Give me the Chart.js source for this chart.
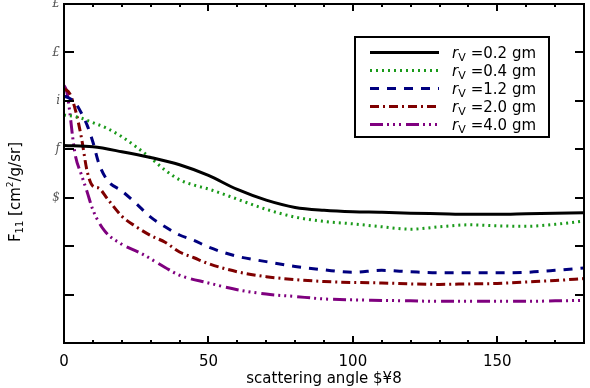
<!DOCTYPE html>
<html>
<head>
<meta charset="utf-8">
<script src="https://cdn.jsdelivr.net/npm/chart.js@4/dist/chart.umd.min.js"></script>
<style>
html,body{margin:0;padding:0;background:#fff;}
#wrap{width:590px;height:388px;}
</style>
</head>
<body>
<div id="wrap"><canvas id="c" width="590" height="388"></canvas></div>
<script>
// ---- data (y values are log10 decades on the plot's decade axis) ----
const seriesSizes = ["0.2", "0.4", "1.2", "2.0", "4.0"];
const yTickLabels = ["", "", "", "$", "f", "i", "£", "£"]; // for decades 0..7
const xTitle = "scattering angle $¥8";

const angles02 = [0,10,20,30,40,50,60,70,80,90,100,110,120,130,140,150,160,170,180];
const values02 = [4.08,4.05,3.95,3.83,3.68,3.46,3.17,2.95,2.80,2.74,2.71,2.70,2.68,2.67,2.66,2.66,2.67,2.68,2.69];

const angles04 = [0,5,10,15,20,25,30,35,40,45,50,60,70,80,90,100,110,120,130,140,150,160,170,180];
const values04 = [4.71,4.66,4.55,4.43,4.26,4.05,3.82,3.57,3.37,3.26,3.18,2.97,2.76,2.60,2.51,2.46,2.40,2.35,2.40,2.44,2.42,2.41,2.45,2.52];

const angles12 = [0,2,4,6,8,10,12,15,20,25,30,35,40,45,50,60,70,80,90,100,110,120,130,140,150,160,170,180];
const values12 = [5.10,5.05,4.95,4.75,4.50,4.15,3.72,3.36,3.14,2.88,2.60,2.40,2.23,2.12,1.98,1.79,1.68,1.58,1.51,1.46,1.50,1.47,1.45,1.45,1.45,1.46,1.50,1.55];

const angles20 = [0,2,4,6,8,10,12,15,20,25,30,35,40,45,50,60,70,80,90,100,110,120,130,140,150,160,170,180];
const values20 = [5.25,5.15,4.80,4.25,3.55,3.24,3.20,2.98,2.62,2.40,2.22,2.08,1.88,1.76,1.64,1.47,1.37,1.31,1.27,1.25,1.24,1.22,1.21,1.22,1.23,1.26,1.29,1.33];

const angles40 = [0,1,2,3,4,6,8,10,14,20,27,35,40,50,60,70,80,90,100,110,120,130,140,150,160,170,180];
const values40 = [5.32,5.18,4.77,4.25,3.85,3.48,3.12,2.75,2.32,2.04,1.84,1.56,1.40,1.24,1.10,1.01,0.96,0.91,0.89,0.88,0.87,0.86,0.86,0.86,0.86,0.87,0.88];

const seriesAngles = [angles02, angles04, angles12, angles20, angles40];
const seriesValues = [values02, values04, values12, values20, values40];

// ---- styles ----
const colors = ["#000000", "#1a9a1a", "#00007f", "#7f0000", "#7f007f"];
const dashes = [[], [2,4], [9,8], [9,4,2,4], [13,4,2,4,2,4,2,5]];

const datasets = seriesSizes.map((s, i) => ({
  label: s,
  data: seriesAngles[i].map((a, j) => ({x: a, y: seriesValues[i][j]})),
  borderColor: colors[i],
  backgroundColor: colors[i],
  borderWidth: 3,
  borderDash: dashes[i],
  pointRadius: 0,
  cubicInterpolationMode: 'monotone',
  fill: false
}));

const framePlugin = {
  id: 'frame',
  afterDraw(chart) {
    const ctx = chart.ctx;
    const a = chart.chartArea;
    const xs = chart.scales.x, ys = chart.scales.y;
    ctx.save();
    // ticks
    ctx.strokeStyle = '#000';
    ctx.lineWidth = 2;
    ctx.setLineDash([]);
    for (let v = 10; v < 180; v += 10) {
      const px = Math.round(xs.getPixelForValue(v));
      const len = (v % 50 === 0) ? 7 : 3;
      ctx.beginPath();
      ctx.moveTo(px, a.bottom); ctx.lineTo(px, a.bottom - len);
      ctx.moveTo(px, a.top); ctx.lineTo(px, a.top + len);
      ctx.stroke();
    }
    for (let d = 1; d < 7; d++) {
      const py = Math.round(ys.getPixelForValue(d));
      ctx.beginPath();
      ctx.moveTo(a.left, py); ctx.lineTo(a.left + 10, py);
      ctx.moveTo(a.right, py); ctx.lineTo(a.right - 9, py);
      ctx.stroke();
    }
    // frame
    ctx.strokeRect(a.left, a.top, a.right - a.left, a.bottom - a.top);

    // y title
    ctx.fillStyle = '#000';
    ctx.translate(16, 192);
    ctx.rotate(-Math.PI / 2);
    ctx.textBaseline = 'middle';
    const mainF = '15px "DejaVu Sans"', subF = '10px "DejaVu Sans"', supF = '9px "DejaVu Sans"';
    const parts = [["F", mainF, 0], ["11", subF, 4], [" [cm", mainF, 0], ["2", supF, -5], ["/g/sr]", mainF, 0]];
    let w = 0;
    parts.forEach(p => { ctx.font = p[1]; w += ctx.measureText(p[0]).width; });
    let x = -w / 2;
    ctx.textAlign = 'left';
    parts.forEach(p => { ctx.font = p[1]; ctx.fillText(p[0], x, p[2]); x += ctx.measureText(p[0]).width; });
    ctx.restore();

    // x title
    ctx.save();
    ctx.fillStyle = '#000';
    ctx.font = '15px "DejaVu Sans"';
    ctx.textAlign = 'center';
    ctx.textBaseline = 'middle';
    ctx.fillText(xTitle, (a.left + a.right) / 2, 379);
    ctx.restore();

    // legend
    ctx.save();
    const bx = 355, by = 37, bw = 194, bh = 100;
    ctx.fillStyle = '#fff';
    ctx.fillRect(bx, by, bw, bh);
    ctx.strokeStyle = '#000';
    ctx.lineWidth = 2;
    ctx.strokeRect(bx, by, bw, bh);
    chart.data.datasets.forEach((ds, i) => {
      const yy = 52.5 + i * 18;
      ctx.strokeStyle = ds.borderColor;
      ctx.lineWidth = 3;
      ctx.setLineDash(ds.borderDash);
      ctx.beginPath();
      ctx.moveTo(370, yy); ctx.lineTo(439, yy);
      ctx.stroke();
      ctx.setLineDash([]);
      ctx.fillStyle = '#000';
      ctx.textBaseline = 'alphabetic';
      ctx.textAlign = 'left';
      let tx = 452;
      const base = yy + 5;
      ctx.font = 'italic 15px "DejaVu Sans"';
      ctx.fillText('r', tx, base); tx += ctx.measureText('r').width;
      ctx.font = '11px "DejaVu Sans"';
      ctx.fillText('V', tx, base + 3); tx += ctx.measureText('V').width + 5;
      ctx.font = '15px "DejaVu Sans"';
      ctx.fillText('=' + ds.label + ' gm', tx, base);
    });
    ctx.restore();
  }
};

new Chart(document.getElementById('c'), {
  type: 'line',
  data: { datasets },
  options: {
    responsive: false,
    animation: false,
    devicePixelRatio: 1,
    layout: { padding: { left: 0, right: 6, top: 4, bottom: 0 } },
    plugins: { legend: { display: false }, tooltip: { enabled: false } },
    scales: {
      x: {
        type: 'linear', min: 0, max: 180,
        grid: { display: false, drawTicks: false },
        border: { display: false },
        ticks: {
          stepSize: 50, padding: 10,
          color: '#000', font: { family: 'DejaVu Sans', size: 15 },
          callback: v => (v % 50 === 0 && v < 180) ? String(v) : ''
        },
        afterFit(s) { s.height = 45; s.paddingLeft = 0; s.paddingRight = 0; }
      },
      y: {
        type: 'linear', min: 0, max: 7,
        grid: { display: false, drawTicks: false },
        border: { display: false },
        ticks: {
          stepSize: 1, padding: 4,
          color: '#555', font: { family: 'DejaVu Serif', size: 12, style: 'italic' },
          callback: v => yTickLabels[Math.round(v)] || ''
        },
        afterFit(s) { s.width = 64; s.paddingTop = 0; s.paddingBottom = 0; }
      }
    }
  },
  plugins: [framePlugin]
});
</script>
</body>
</html>
